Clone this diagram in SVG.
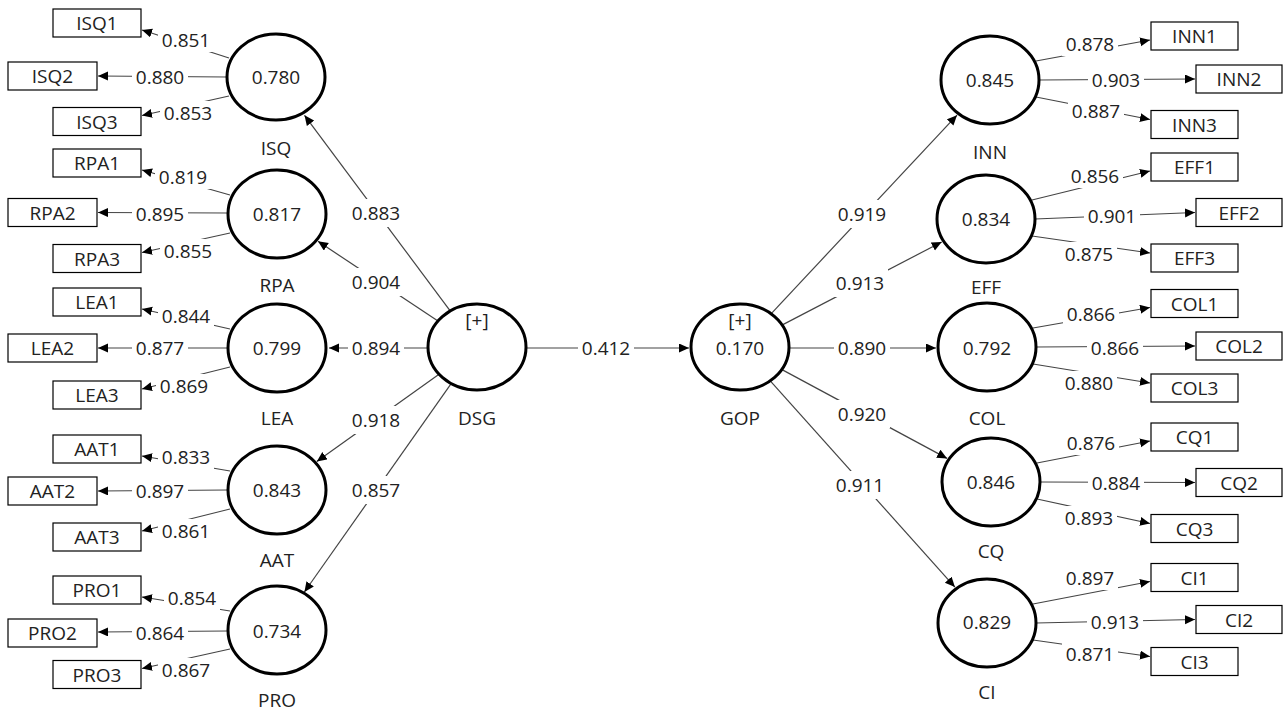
<svg xmlns="http://www.w3.org/2000/svg" width="1283" height="711" viewBox="0 0 1283 711">
<style>
text{font-family:"Open Sans","Noto Sans","Liberation Sans",sans-serif;font-size:19px;fill:#222;text-anchor:middle}
.lv{fill:#fff;stroke:#000;stroke-width:3}
.ind{fill:#fff;stroke:#000;stroke-width:1.2}
.cn line{stroke:#444;stroke-width:1.2;marker-end:url(#ah)}
.lb rect{fill:#fff}
</style>
<defs>
<marker id="ah" markerUnits="userSpaceOnUse" markerWidth="11" markerHeight="10" refX="10" refY="4.5" orient="auto"><path d="M0,0 L10,4.5 L0,9 z" fill="#000"/></marker>
</defs>
<rect width="1283" height="711" fill="#fff"/>
<g class="cn">
<line x1="449.8" y1="310.4" x2="304.5" y2="115.3"/>
<line x1="437.6" y1="320.8" x2="318" y2="241.3"/>
<line x1="428" y1="348" x2="329" y2="348"/>
<line x1="438.7" y1="374.4" x2="316.8" y2="461.5"/>
<line x1="450.8" y1="384.2" x2="304.4" y2="592"/>
<line x1="526" y1="348" x2="689" y2="348"/>
<line x1="771.5" y1="313.3" x2="957" y2="115.2"/>
<line x1="782.4" y1="324.9" x2="941.7" y2="242"/>
<line x1="789" y1="348" x2="936" y2="348"/>
<line x1="782" y1="369.6" x2="947.1" y2="458.4"/>
<line x1="770.7" y1="381.3" x2="954.9" y2="587.1"/>
<line x1="229" y1="58" x2="142" y2="30"/>
<line x1="227" y1="77" x2="98" y2="76"/>
<line x1="229" y1="96" x2="142" y2="115.5"/>
<line x1="230" y1="195" x2="142" y2="170"/>
<line x1="228" y1="213" x2="98" y2="212.5"/>
<line x1="230" y1="233" x2="142" y2="252.5"/>
<line x1="230" y1="329" x2="142" y2="309"/>
<line x1="228" y1="348" x2="98" y2="348"/>
<line x1="230" y1="367" x2="142" y2="389"/>
<line x1="230" y1="471" x2="142" y2="456"/>
<line x1="228" y1="490" x2="98" y2="491"/>
<line x1="230" y1="509" x2="142" y2="531"/>
<line x1="230" y1="611" x2="142" y2="597"/>
<line x1="228" y1="631" x2="98" y2="632"/>
<line x1="230" y1="649" x2="142" y2="668.5"/>
<line x1="1036" y1="61" x2="1150" y2="40"/>
<line x1="1039" y1="80" x2="1195" y2="79"/>
<line x1="1036" y1="97" x2="1150" y2="119.5"/>
<line x1="1032" y1="200" x2="1150" y2="171"/>
<line x1="1035" y1="219" x2="1195" y2="212.5"/>
<line x1="1032" y1="236" x2="1150" y2="253"/>
<line x1="1033" y1="328" x2="1150" y2="307.5"/>
<line x1="1036" y1="347" x2="1195" y2="346"/>
<line x1="1033" y1="364" x2="1150" y2="383"/>
<line x1="1037" y1="463" x2="1150" y2="441"/>
<line x1="1040" y1="482" x2="1195" y2="482.5"/>
<line x1="1037" y1="499" x2="1150" y2="523.5"/>
<line x1="1033" y1="604" x2="1150" y2="581.5"/>
<line x1="1036" y1="623" x2="1195" y2="619.5"/>
<line x1="1033" y1="640" x2="1150" y2="656.5"/>
</g>
<g class="lb">
<g transform="translate(376,213)"><rect x="-28" y="-14" width="56" height="28"/><text y="7">0.883</text></g>
<g transform="translate(376,282)"><rect x="-28" y="-14" width="56" height="28"/><text y="7">0.904</text></g>
<g transform="translate(376,348)"><rect x="-28" y="-14" width="56" height="28"/><text y="7">0.894</text></g>
<g transform="translate(376,420)"><rect x="-28" y="-14" width="56" height="28"/><text y="7">0.918</text></g>
<g transform="translate(376,490)"><rect x="-28" y="-14" width="56" height="28"/><text y="7">0.857</text></g>
<g transform="translate(606,348)"><rect x="-28" y="-14" width="56" height="28"/><text y="7">0.412</text></g>
<g transform="translate(862,214)"><rect x="-28" y="-14" width="56" height="28"/><text y="7">0.919</text></g>
<g transform="translate(860,283)"><rect x="-28" y="-14" width="56" height="28"/><text y="7">0.913</text></g>
<g transform="translate(862,348)"><rect x="-28" y="-14" width="56" height="28"/><text y="7">0.890</text></g>
<g transform="translate(862,414)"><rect x="-28" y="-14" width="56" height="28"/><text y="7">0.920</text></g>
<g transform="translate(860,485)"><rect x="-28" y="-14" width="56" height="28"/><text y="7">0.911</text></g>
<g transform="translate(186,40)"><rect x="-28" y="-12" width="56" height="24"/><text y="7">0.851</text></g>
<g transform="translate(160,77)"><rect x="-28" y="-12" width="56" height="24"/><text y="7">0.880</text></g>
<g transform="translate(188,113)"><rect x="-28" y="-12" width="56" height="24"/><text y="7">0.853</text></g>
<g transform="translate(183,177)"><rect x="-28" y="-12" width="56" height="24"/><text y="7">0.819</text></g>
<g transform="translate(160,214)"><rect x="-28" y="-12" width="56" height="24"/><text y="7">0.895</text></g>
<g transform="translate(188,251)"><rect x="-28" y="-12" width="56" height="24"/><text y="7">0.855</text></g>
<g transform="translate(186,316)"><rect x="-28" y="-12" width="56" height="24"/><text y="7">0.844</text></g>
<g transform="translate(160,348)"><rect x="-28" y="-12" width="56" height="24"/><text y="7">0.877</text></g>
<g transform="translate(184,386)"><rect x="-28" y="-12" width="56" height="24"/><text y="7">0.869</text></g>
<g transform="translate(186,457)"><rect x="-28" y="-12" width="56" height="24"/><text y="7">0.833</text></g>
<g transform="translate(160,491)"><rect x="-28" y="-12" width="56" height="24"/><text y="7">0.897</text></g>
<g transform="translate(186,531)"><rect x="-28" y="-12" width="56" height="24"/><text y="7">0.861</text></g>
<g transform="translate(192,598)"><rect x="-28" y="-12" width="56" height="24"/><text y="7">0.854</text></g>
<g transform="translate(160,633)"><rect x="-28" y="-12" width="56" height="24"/><text y="7">0.864</text></g>
<g transform="translate(186,670)"><rect x="-28" y="-12" width="56" height="24"/><text y="7">0.867</text></g>
<g transform="translate(1090,44)"><rect x="-28" y="-12" width="56" height="24"/><text y="7">0.878</text></g>
<g transform="translate(1116,80)"><rect x="-28" y="-12" width="56" height="24"/><text y="7">0.903</text></g>
<g transform="translate(1096,111)"><rect x="-28" y="-12" width="56" height="24"/><text y="7">0.887</text></g>
<g transform="translate(1095,176)"><rect x="-28" y="-12" width="56" height="24"/><text y="7">0.856</text></g>
<g transform="translate(1112,216)"><rect x="-28" y="-12" width="56" height="24"/><text y="7">0.901</text></g>
<g transform="translate(1089,254)"><rect x="-28" y="-12" width="56" height="24"/><text y="7">0.875</text></g>
<g transform="translate(1091,314)"><rect x="-28" y="-12" width="56" height="24"/><text y="7">0.866</text></g>
<g transform="translate(1115,348)"><rect x="-28" y="-12" width="56" height="24"/><text y="7">0.866</text></g>
<g transform="translate(1089,383)"><rect x="-28" y="-12" width="56" height="24"/><text y="7">0.880</text></g>
<g transform="translate(1091,443)"><rect x="-28" y="-12" width="56" height="24"/><text y="7">0.876</text></g>
<g transform="translate(1116,483)"><rect x="-28" y="-12" width="56" height="24"/><text y="7">0.884</text></g>
<g transform="translate(1089,518)"><rect x="-28" y="-12" width="56" height="24"/><text y="7">0.893</text></g>
<g transform="translate(1090,578)"><rect x="-28" y="-12" width="56" height="24"/><text y="7">0.897</text></g>
<g transform="translate(1115,622)"><rect x="-28" y="-12" width="56" height="24"/><text y="7">0.913</text></g>
<g transform="translate(1090,654)"><rect x="-28" y="-12" width="56" height="24"/><text y="7">0.871</text></g>
</g>
<g id="DSG"><ellipse class="lv" cx="477" cy="347" rx="49" ry="43"/><text x="477" y="327">[+]</text><text x="477" y="425">DSG</text></g>
<g id="GOP"><ellipse class="lv" cx="740" cy="347" rx="49" ry="43"/><text x="740" y="327">[+]</text><text x="740" y="355">0.170</text><text x="740" y="425">GOP</text></g>
<g id="ISQ"><ellipse class="lv" cx="276" cy="77" rx="49" ry="43"/><text x="276" y="84">0.780</text><text x="276" y="155">ISQ</text></g>
<g id="RPA"><ellipse class="lv" cx="277" cy="214" rx="49" ry="44"/><text x="277" y="221">0.817</text><text x="277" y="292">RPA</text></g>
<g id="LEA"><ellipse class="lv" cx="277" cy="348" rx="49" ry="44"/><text x="277" y="355">0.799</text><text x="277" y="425">LEA</text></g>
<g id="AAT"><ellipse class="lv" cx="277" cy="490" rx="49" ry="44"/><text x="277" y="497">0.843</text><text x="277" y="567">AAT</text></g>
<g id="PRO"><ellipse class="lv" cx="277" cy="630" rx="49" ry="44"/><text x="277" y="638">0.734</text><text x="277" y="707">PRO</text></g>
<g id="INN"><ellipse class="lv" cx="990" cy="80" rx="49" ry="44"/><text x="990" y="87">0.845</text><text x="990" y="159">INN</text></g>
<g id="EFF"><ellipse class="lv" cx="986" cy="219" rx="49" ry="44"/><text x="986" y="226">0.834</text><text x="986" y="294">EFF</text></g>
<g id="COL"><ellipse class="lv" cx="987" cy="347" rx="49" ry="44"/><text x="987" y="355">0.792</text><text x="987" y="425">COL</text></g>
<g id="CQ"><ellipse class="lv" cx="991" cy="482" rx="49" ry="44"/><text x="991" y="489">0.846</text><text x="991" y="558">CQ</text></g>
<g id="CI"><ellipse class="lv" cx="987" cy="623" rx="49" ry="44"/><text x="987" y="629">0.829</text><text x="987" y="699">CI</text></g>
<g id="ISQ1"><rect class="ind" x="53" y="9" width="88" height="28"/><text x="97" y="30">ISQ1</text></g>
<g id="ISQ2"><rect class="ind" x="8" y="62" width="89" height="28"/><text x="52.5" y="83">ISQ2</text></g>
<g id="ISQ3"><rect class="ind" x="53" y="107.5" width="88" height="28"/><text x="97" y="129">ISQ3</text></g>
<g id="RPA1"><rect class="ind" x="53" y="149" width="88" height="28"/><text x="97" y="170">RPA1</text></g>
<g id="RPA2"><rect class="ind" x="8" y="198.5" width="89" height="28"/><text x="52.5" y="220">RPA2</text></g>
<g id="RPA3"><rect class="ind" x="53" y="244.5" width="88" height="28"/><text x="97" y="266">RPA3</text></g>
<g id="LEA1"><rect class="ind" x="53" y="288" width="88" height="28"/><text x="97" y="309">LEA1</text></g>
<g id="LEA2"><rect class="ind" x="8" y="334" width="89" height="28"/><text x="52.5" y="355">LEA2</text></g>
<g id="LEA3"><rect class="ind" x="53" y="381" width="88" height="28"/><text x="97" y="402">LEA3</text></g>
<g id="AAT1"><rect class="ind" x="53" y="435" width="88" height="28"/><text x="97" y="456">AAT1</text></g>
<g id="AAT2"><rect class="ind" x="8" y="477" width="89" height="28"/><text x="52.5" y="498">AAT2</text></g>
<g id="AAT3"><rect class="ind" x="53" y="523" width="88" height="28"/><text x="97" y="544">AAT3</text></g>
<g id="PRO1"><rect class="ind" x="53" y="576" width="88" height="28"/><text x="97" y="597">PRO1</text></g>
<g id="PRO2"><rect class="ind" x="8" y="619" width="89" height="28"/><text x="52.5" y="640">PRO2</text></g>
<g id="PRO3"><rect class="ind" x="53" y="660.5" width="88" height="28"/><text x="97" y="682">PRO3</text></g>
<g id="INN1"><rect class="ind" x="1151" y="22" width="87" height="28"/><text x="1194.5" y="43">INN1</text></g>
<g id="INN2"><rect class="ind" x="1196" y="65" width="86" height="28"/><text x="1239" y="86">INN2</text></g>
<g id="INN3"><rect class="ind" x="1151" y="110.5" width="87" height="28"/><text x="1194.5" y="132">INN3</text></g>
<g id="EFF1"><rect class="ind" x="1151" y="153" width="87" height="28"/><text x="1194.5" y="174">EFF1</text></g>
<g id="EFF2"><rect class="ind" x="1196" y="198.5" width="86" height="28"/><text x="1239" y="220">EFF2</text></g>
<g id="EFF3"><rect class="ind" x="1151" y="244" width="87" height="28"/><text x="1194.5" y="265">EFF3</text></g>
<g id="COL1"><rect class="ind" x="1151" y="289.5" width="87" height="28"/><text x="1194.5" y="311">COL1</text></g>
<g id="COL2"><rect class="ind" x="1196" y="332" width="86" height="28"/><text x="1239" y="353">COL2</text></g>
<g id="COL3"><rect class="ind" x="1151" y="374" width="87" height="28"/><text x="1194.5" y="395">COL3</text></g>
<g id="CQ1"><rect class="ind" x="1151" y="423" width="87" height="28"/><text x="1194.5" y="444">CQ1</text></g>
<g id="CQ2"><rect class="ind" x="1196" y="468.5" width="86" height="28"/><text x="1239" y="490">CQ2</text></g>
<g id="CQ3"><rect class="ind" x="1151" y="514.5" width="87" height="28"/><text x="1194.5" y="536">CQ3</text></g>
<g id="CI1"><rect class="ind" x="1151" y="563.5" width="87" height="28"/><text x="1194.5" y="585">CI1</text></g>
<g id="CI2"><rect class="ind" x="1196" y="605.5" width="86" height="28"/><text x="1239" y="627">CI2</text></g>
<g id="CI3"><rect class="ind" x="1151" y="647.5" width="87" height="28"/><text x="1194.5" y="669">CI3</text></g>
</svg>
